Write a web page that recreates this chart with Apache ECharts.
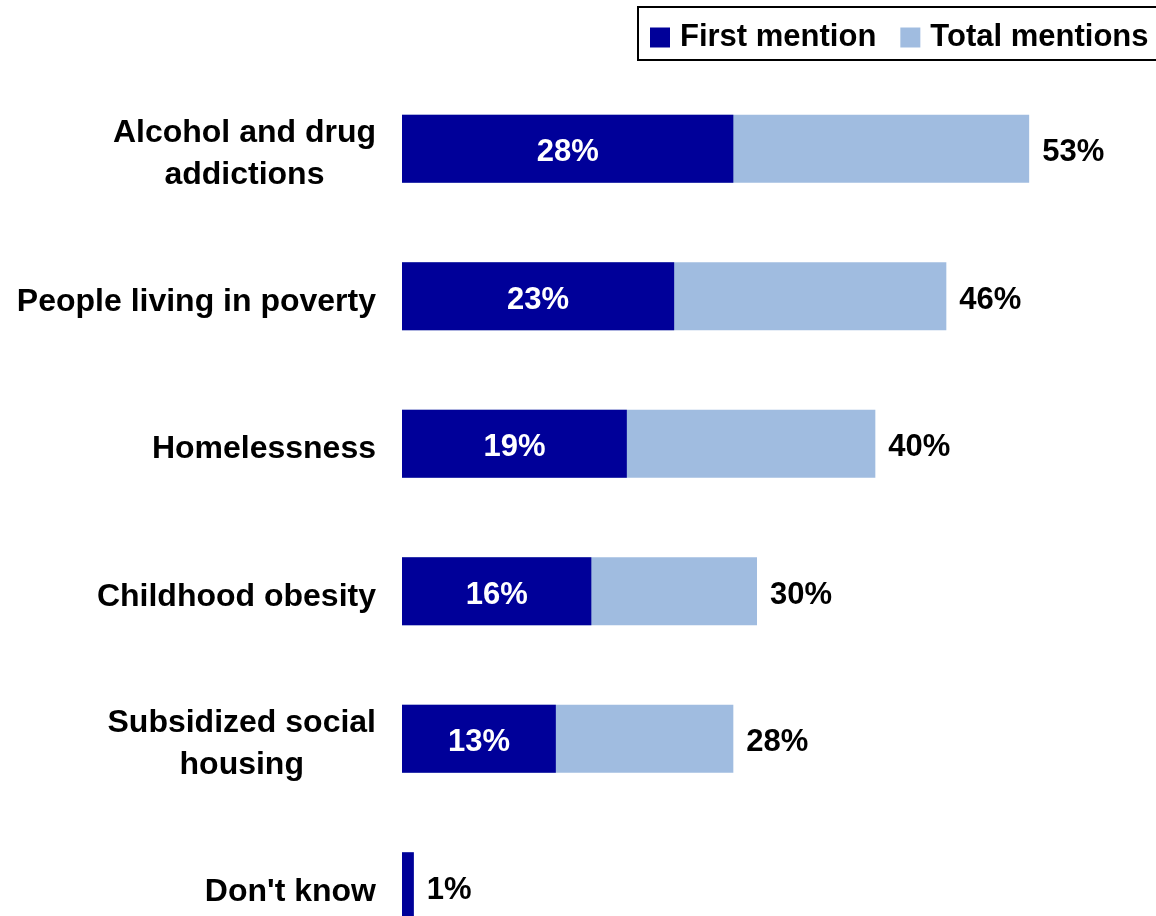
<!DOCTYPE html>
<html>
<head>
<meta charset="utf-8">
<script src="https://cdn.jsdelivr.net/npm/echarts@6/dist/echarts.min.js"></script>
<style>
  html, body { margin: 0; padding: 0; background: #fff; }
  #chart { width: 1156px; height: 916px; }
</style>
</head>
<body>
<div id="chart"></div>
<script>
var categories = ['Alcohol and drug\naddictions', 'People living in poverty', 'Homelessness',
    'Childhood obesity', 'Subsidized social\nhousing', "Don't know"];
var firstMention = [28, 23, 19, 16, 13, 1];
var totalMentions = [53, 46, 40, 30, 28, 1];

var FONT = '"Liberation Sans", Arial, sans-serif';

var chart = echarts.init(document.getElementById('chart'));

var option = {
    animation: false,
    backgroundColor: '#fff',
    textStyle: { fontFamily: FONT },
    legend: {
        data: ['First mention', 'Total mentions'],
        left: 638,
        top: 7,
        width: 560,
        padding: [15, 12, 7, 12],
        itemGap: 24,
        itemWidth: 20,
        itemHeight: 20,
        icon: 'rect',
        borderColor: '#000',
        borderWidth: 2,
        borderRadius: 0,
        textStyle: { fontSize: 31, fontWeight: 'bold', color: '#000', fontFamily: FONT,
                     padding: [0, 0, 0, 5] }
    },
    grid: { left: 402, top: 75, width: 710, height: 885, containLabel: false,
            outerBoundsMode: 'none' },
    xAxis: {
        type: 'value', min: 0, max: 60, show: false
    },
    yAxis: {
        type: 'category',
        data: categories,
        inverse: true,
        axisLine: { show: false },
        axisTick: { show: false },
        axisLabel: {
            margin: 26,
            padding: [11, 0, 0, 0],
            formatter: function (v) {
                return v.split('\n').map(function (s) { return '{c|' + s + '}'; }).join('\n');
            },
            rich: {
                c: { fontSize: 32, fontWeight: 'bold', color: '#000', lineHeight: 42,
                     align: 'center', fontFamily: FONT }
            }
        }
    },
    series: [{
        name: 'Total mentions',
        type: 'bar',
        data: totalMentions,
        barWidth: 68,
        itemStyle: { color: '#A0BCE0' },
        label: {
            show: true, position: 'right', distance: 13, offset: [0, 4],
            formatter: '{c}%',
            fontSize: 31, fontWeight: 'bold', color: '#000', fontFamily: FONT
        }
    }, {
        name: 'First mention',
        type: 'bar',
        data: firstMention,
        barWidth: 68,
        barGap: '-100%',
        itemStyle: { color: '#000099' },
        label: {
            show: true, position: 'inside', offset: [0, 4],
            formatter: function (p) { return p.value >= 5 ? p.value + '%' : ''; },
            fontSize: 31, fontWeight: 'bold', color: '#fff', fontFamily: FONT
        }
    }]
};

chart.setOption(option);

window.addEventListener('resize', function () {
    chart.resize();
});
</script>
</body>
</html>
